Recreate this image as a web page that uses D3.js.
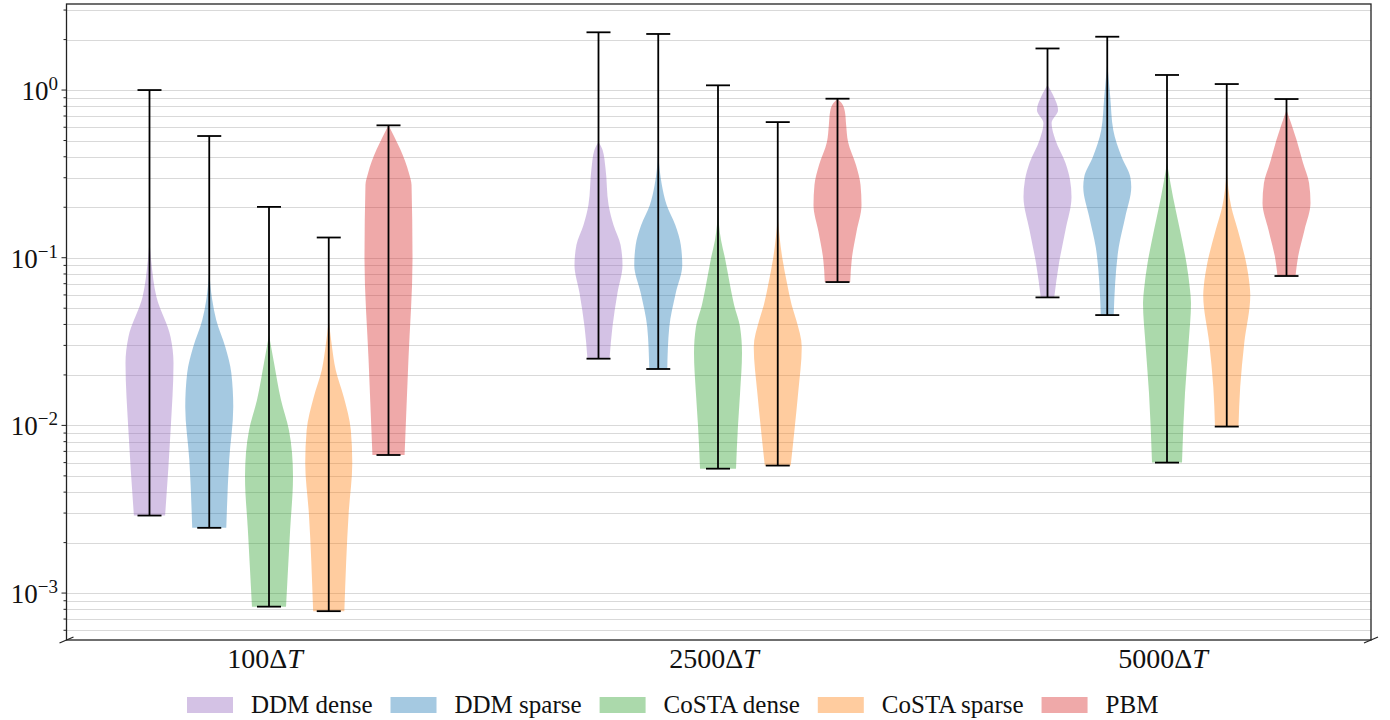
<!DOCTYPE html>
<html>
<head>
<meta charset="utf-8">
<script src="https://cdn.jsdelivr.net/npm/d3@7"></script>
<style>
  body { margin: 0; background: #fff; }
</style>
</head>
<body>
<script>
var width = 1390,
    height = 720;

var serifFont = "Liberation Serif";

// time horizons on the x axis
var categories = ["100", "2500", "5000"];

var seriesNames = ["DDM dense", "DDM sparse", "CoSTA dense", "CoSTA sparse", "PBM"];
var seriesColors = ["#9467bd", "#1f77b4", "#2ca02c", "#ff7f0e", "#d62728"];

// one entry per category: min, max and the violin outline [value, relative density]
var ddmDense = [
    { min: 0.0029, max: 1.0, kde: [[0.1274, 0], [0.0929, 0.08], [0.0583, 0.29], [0.0336, 0.88], [0.02354, 1.0], [0.00938, 0.88], [0.0029, 0.65]] },
    { min: 0.025, max: 2.21, kde: [[0.4896, 0], [0.4387, 0.17], [0.3425, 0.29], [0.2061, 0.42], [0.1566, 0.625], [0.119, 0.92], [0.0904, 1.0], [0.0616, 0.79], [0.0386, 0.58], [0.025, 0.46]] },
    { min: 0.058, max: 1.77, kde: [[1.071, 0], [0.9084, 0.27], [0.76, 0.44], [0.6356, 0.17], [0.5032, 0.33], [0.3669, 0.75], [0.2905, 0.94], [0.2301, 1.0], [0.1462, 0.75], [0.0929, 0.48], [0.058, 0.28]] }
];
var ddmSparse = [
    { min: 0.00245, max: 0.532, kde: [[0.0844, 0], [0.0559, 0.125], [0.0425, 0.29], [0.02933, 0.67], [0.02052, 0.92], [0.01287, 1.0], [0.00621, 0.83], [0.00245, 0.71]] },
    { min: 0.0217, max: 2.16, kde: [[0.4699, 0], [0.3333, 0.06], [0.2713, 0.15], [0.2061, 0.35], [0.1566, 0.71], [0.119, 0.94], [0.0904, 1.0], [0.0616, 0.73], [0.0386, 0.46], [0.0217, 0.375]] },
    { min: 0.0455, max: 2.08, kde: [[1.449, 0], [0.9084, 0.125], [0.5774, 0.25], [0.3986, 0.6], [0.3028, 0.96], [0.2639, 1.0], [0.1748, 0.75], [0.1158, 0.48], [0.0706, 0.33], [0.0455, 0.27]] }
];
var costaDense = [
    { min: 0.00083, max: 0.201, kde: [[0.0346, 0], [0.02354, 0.21], [0.01416, 0.5], [0.00938, 0.83], [0.00684, 0.96], [0.00492, 1.0], [0.002376, 0.88], [0.00083, 0.71]] },
    { min: 0.00552, max: 1.067, kde: [[0.1873, 0], [0.1274, 0.125], [0.0995, 0.29], [0.0687, 0.5], [0.0522, 0.67], [0.0386, 0.92], [0.027, 1.0], [0.01559, 0.92], [0.00977, 0.83], [0.00552, 0.75]] },
    { min: 0.006, max: 1.23, kde: [[0.3669, 0], [0.2301, 0.25], [0.1462, 0.54], [0.0929, 0.81], [0.0642, 0.96], [0.0537, 1.0], [0.031, 0.9], [0.01559, 0.75], [0.006, 0.625]] }
];
var costaSparse = [
    { min: 0.00078, max: 0.132, kde: [[0.0425, 0], [0.03014, 0.125], [0.02138, 0.29], [0.01476, 0.625], [0.00938, 0.92], [0.00596, 0.98], [0.003001, 0.83], [0.00078, 0.65]] },
    { min: 0.00576, max: 0.644, kde: [[0.1724, 0], [0.0995, 0.19], [0.0687, 0.4], [0.0522, 0.58], [0.0425, 0.77], [0.02933, 1.0], [0.01559, 0.85], [0.00977, 0.71], [0.00576, 0.54]] },
    { min: 0.00984, max: 1.086, kde: [[0.3333, 0], [0.2006, 0.19], [0.1462, 0.46], [0.0929, 0.81], [0.0668, 0.96], [0.0599, 0.98], [0.031, 0.73], [0.01693, 0.56], [0.00984, 0.49]] }
];
var pbm = [
    { min: 0.00666, max: 0.616, kde: [[0.616, 0], [0.3199, 0.85], [0.2713, 0.96], [0.0968, 1.0], [0.02453, 0.83], [0.00666, 0.67]] },
    { min: 0.0716, max: 0.888, kde: [[0.888, 0], [0.8365, 0.17], [0.7392, 0.31], [0.6184, 0.36], [0.4896, 0.44], [0.357, 0.77], [0.2713, 0.96], [0.2061, 1.0], [0.1423, 0.79], [0.0995, 0.6], [0.0716, 0.53]] },
    { min: 0.0778, max: 0.884, kde: [[0.76, 0], [0.5032, 0.42], [0.3669, 0.69], [0.2789, 0.94], [0.2118, 1.0], [0.1462, 0.75], [0.1009, 0.48], [0.0778, 0.375]] }
];

var allSeries = [ddmDense, ddmSparse, costaDense, costaSparse, pbm];

var plot = { left: 66.5, right: 1371, top: 4, bottom: 640 };

var svg = d3.select("body").append("svg")
    .attr("width", width)
    .attr("height", height);

var y = d3.scaleLog()
    .domain([5.25e-4, 3.26])
    .range([plot.bottom, plot.top]);

var xGroup = d3.scalePoint()
    .domain(categories)
    .range([269, 1167]);

var xInner = d3.scalePoint()
    .domain(seriesNames)
    .range([-119.5, 119.5]);

// half width of the widest part of a violin
var halfW = d3.scaleLinear().domain([0, 1]).range([0, 24]);

// set the serif face inline and important, so no other rule can replace it
function serif(sel, size) {
    return sel.style("font-family", serifFont, "important")
        .style("font-size", size + "px", "important")
        .attr("fill", "#111");
}

// grid lines on every major and minor log tick
var gridVals = [];
for (var e = -4; e <= 0; e++) {
    for (var m = 1; m <= 9; m++) {
        var v = m * Math.pow(10, e);
        if (v > y.domain()[0] && v < y.domain()[1]) gridVals.push(v);
    }
}

svg.append("g").selectAll("line")
    .data(gridVals)
    .enter().append("line")
    .attr("x1", plot.left)
    .attr("x2", plot.right)
    .attr("y1", function(d) { return Math.round(y(d)) + 0.5; })
    .attr("y2", function(d) { return Math.round(y(d)) + 0.5; })
    .style("stroke", "#d9d9d9")
    .style("stroke-width", 1.1);

// violins
var area = d3.area()
    .y(function(d) { return y(d[0]); })
    .x0(function(d) { return -halfW(d[1]); })
    .x1(function(d) { return halfW(d[1]); })
    .curve(d3.curveMonotoneY);

allSeries.forEach(function(series, si) {
    var g = svg.append("g");
    series.forEach(function(d, ci) {
        var cx = xGroup(categories[ci]) + xInner(seriesNames[si]);
        g.append("path")
            .attr("transform", "translate(" + cx + ",0)")
            .attr("d", area(d.kde))
            .style("fill", seriesColors[si])
            .style("fill-opacity", 0.4)
            .style("stroke", "none");
    });
});

// whiskers with caps
allSeries.forEach(function(series, si) {
    series.forEach(function(d, ci) {
        var cx = xGroup(categories[ci]) + xInner(seriesNames[si]);
        svg.append("line")
            .attr("x1", cx).attr("x2", cx)
            .attr("y1", y(d.min)).attr("y2", y(d.max))
            .style("stroke", "#000").style("stroke-width", 1.8);
        [d.min, d.max].forEach(function(v) {
            svg.append("line")
                .attr("x1", cx - 12).attr("x2", cx + 12)
                .attr("y1", y(v)).attr("y2", y(v))
                .style("stroke", "#000").style("stroke-width", 1.8);
        });
    });
});

// y ticks
svg.append("g").selectAll("line")
    .data(gridVals)
    .enter().append("line")
    .attr("x1", function(d) { return Math.abs(Math.log10(d) - Math.round(Math.log10(d))) < 1e-9 ? plot.left - 5 : plot.left - 3; })
    .attr("x2", plot.left)
    .attr("y1", function(d) { return y(d); })
    .attr("y2", function(d) { return y(d); })
    .style("stroke", "#222")
    .style("stroke-width", 1);

var majors = [0, -1, -2, -3];
majors.forEach(function(d) {
    var t = serif(svg.append("text"), 27)
        .attr("x", 58)
        .attr("y", y(Math.pow(10, d)) + 10)
        .attr("text-anchor", "end");
    t.append("tspan").text("10");
    serif(t.append("tspan"), 19)
        .attr("dy", -10)
        .text(d === 0 ? "0" : "\u2212" + (-d));
});

// frame
svg.append("rect")
    .attr("x", plot.left).attr("y", plot.top)
    .attr("width", plot.right - plot.left)
    .attr("height", plot.bottom - plot.top)
    .style("fill", "none")
    .style("stroke", "#222")
    .style("stroke-width", 1.3);

// break marks at both ends of the bottom spine
[plot.left, plot.right].forEach(function(px) {
    svg.append("line")
        .attr("x1", px - 7).attr("x2", px + 7)
        .attr("y1", plot.bottom + 3).attr("y2", plot.bottom - 3)
        .style("stroke", "#222").style("stroke-width", 1.3);
});

// x labels
categories.forEach(function(d) {
    var t = serif(svg.append("text"), 28)
        .attr("x", xGroup(d) - 4)
        .attr("y", 668)
        .attr("text-anchor", "middle");
    t.append("tspan").text(d + "\u0394");
    t.append("tspan").style("font-style", "italic").text("T");
});

// legend, laid out left to right from the measured label widths
var lx = 187;
seriesNames.forEach(function(name, i) {
    svg.append("rect")
        .attr("x", lx).attr("y", 697)
        .attr("width", 46).attr("height", 16)
        .style("fill", seriesColors[i])
        .style("fill-opacity", 0.4);
    var t = serif(svg.append("text"), 25)
        .attr("x", lx + 64)
        .attr("y", 713)
        .text(name);
    lx = lx + 64 + t.node().getComputedTextLength() + 18;
});
</script>
</body>
</html>
